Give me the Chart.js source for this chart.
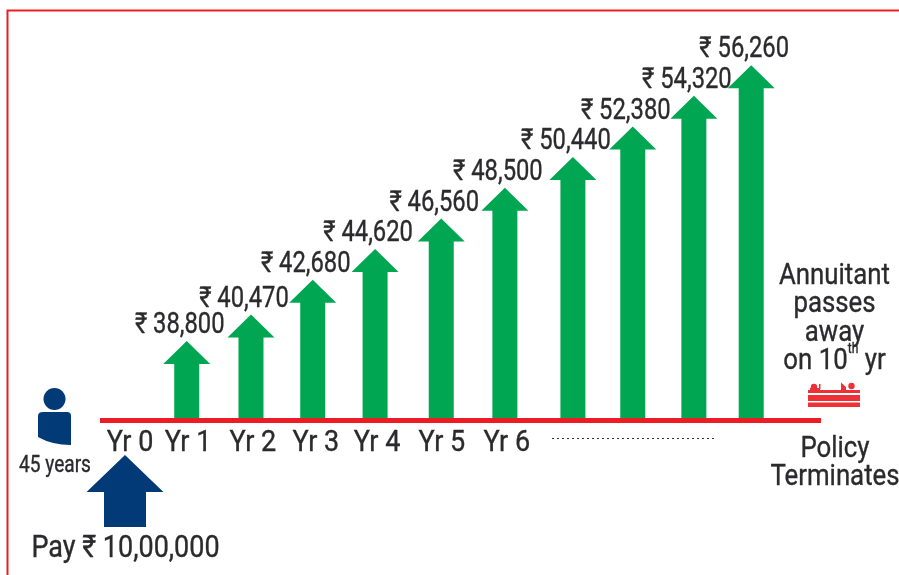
<!DOCTYPE html>
<html><head><meta charset="utf-8">
<style>html,body{margin:0;padding:0;background:#fff}canvas{display:block}</style>
<script src="https://cdn.jsdelivr.net/npm/chart.js@4"></script></head>
<body><canvas id="c" width="899" height="575"></canvas>
<script>
// Data
const tickLabels = ['Yr 0','Yr 1','Yr 2','Yr 3','Yr 4','Yr 5','Yr 6'];
const tickYears  = [0.08,1.0,2.03,3.03,4.0,5.03,6.06];
const arrowYears = [0.98,2.0,2.98,3.97,5.02,6.03,7.11,8.06,9.03,9.94];
const annuity    = [38800,40470,42680,44620,46560,48500,50440,52380,54320,56260];
const premiumYear = [0];
const premium     = [1000000];

const FONT = 'Roboto,"Noto Sans",sans-serif';
const INK = '#2b2a2c', RED = '#ed1c24', GREEN = '#00a651', NAVY = '#013a77';
const AXIS_BASE = 33768;
const arrowShape = [{head:1.88, h:23},{head:1.83, h:37}];
const fmt = v => '₹ ' + v.toLocaleString('en-IN');

function textAt(ctx, s, x, y, size, k, align){
  ctx.save();
  ctx.translate(x,y); ctx.scale(k,1);
  ctx.font = size + 'px ' + FONT; ctx.textAlign = align || 'center';
  ctx.textBaseline = 'middle'; ctx.fillStyle = INK; ctx.strokeStyle = INK; ctx.lineWidth = 0.35;
  ctx.fillText(s, 0, 0); ctx.strokeText(s, 0, 0);
  ctx.restore();
}
const arrows = {
  id:'arrows',
  beforeDatasetDraw(chart, args){
    const {ctx} = chart, ds = chart.data.datasets[args.index], sh = arrowShape[args.index];
    ctx.save(); ctx.fillStyle = ds.backgroundColor;
    args.meta.data.forEach(b => {
      const w = b.width, hw = w*sh.head/2;
      ctx.beginPath();
      ctx.moveTo(b.x, b.y);
      ctx.lineTo(b.x+hw, b.y+sh.h); ctx.lineTo(b.x+w/2, b.y+sh.h);
      ctx.lineTo(b.x+w/2, b.base); ctx.lineTo(b.x-w/2, b.base);
      ctx.lineTo(b.x-w/2, b.y+sh.h); ctx.lineTo(b.x-hw, b.y+sh.h);
      ctx.closePath(); ctx.fill();
    });
    ctx.restore();
    return false;
  }
};
const decor = {
  id:'decor',
  afterDraw(chart){
    const {ctx} = chart;
    ctx.save();
    // frame
    ctx.strokeStyle = RED; ctx.lineWidth = 2;
    ctx.beginPath(); ctx.moveTo(7.5,575); ctx.lineTo(7.5,10.5); ctx.lineTo(899,10.5); ctx.stroke();
    // axis tick labels, condensed
    const xs = chart.scales.x;
    xs.ticks.forEach(t => textAt(ctx, t.label, xs.getPixelForValue(t.value), 443, 30, 0.9));
    // value labels
    chart.getDatasetMeta(0).data.forEach((b,i)=>{
      textAt(ctx, fmt(annuity[i]), b.x-7, b.y-15, 29, 0.82);
    });
    // person
    ctx.fillStyle = NAVY;
    ctx.beginPath(); ctx.arc(54.5,399,11,0,Math.PI*2); ctx.fill();
    ctx.beginPath(); ctx.moveTo(38,416); ctx.quadraticCurveTo(38,412,43,412);
    ctx.lineTo(67,412); ctx.quadraticCurveTo(71,412,71,416); ctx.lineTo(71,445);
    ctx.quadraticCurveTo(52,445,38,437); ctx.closePath(); ctx.fill();
    textAt(ctx,'45 years',55,466,23,0.83);
    textAt(ctx,'Pay ₹ 10,00,000',125.5,549,31,0.87);
    // right text
    const R = 0.86, cx = 834.5;
    textAt(ctx,'Annuitant',cx,276,30,R);
    textAt(ctx,'passes',cx,304,30,R);
    textAt(ctx,'away',cx,333,30,R);
    ctx.font = '30px '+FONT;
    const a='on 10', c=' yr', wa=ctx.measureText(a).width*R, wc=ctx.measureText(c).width*R;
    ctx.font = '14px '+FONT; const wb=ctx.measureText('th').width*R;
    const sx = cx-(wa+wb+wc)/2;
    textAt(ctx,a,sx,361,30,R,'left');
    textAt(ctx,'th',sx+wa,349,14,R,'left');
    textAt(ctx,c,sx+wa+wb,361,30,R,'left');
    textAt(ctx,'Policy',835,449,30,R);
    textAt(ctx,'Terminates',835,477,30,R);
    // bed
    ctx.fillStyle = '#ee3136';
    ctx.fillRect(808,390,52,3); ctx.fillRect(808,395,52,6); ctx.fillRect(808,402.5,52,4.5);
    ctx.beginPath(); ctx.arc(814,387,3.2,0,Math.PI*2); ctx.arc(851.5,386,3.2,0,Math.PI*2); ctx.fill();
    ctx.fillRect(810,388,10,2); ctx.fillRect(819,384,1.5,5);
    ctx.beginPath(); ctx.moveTo(841,382.5); ctx.lineTo(846,387); ctx.lineTo(846,390); ctx.lineTo(841,390); ctx.fill();
    // dotted ellipsis
    ctx.strokeStyle = '#333'; ctx.lineWidth = 1; ctx.setLineDash([2,3]);
    ctx.beginPath(); ctx.moveTo(552,438.5); ctx.lineTo(715,438.5); ctx.stroke();
    ctx.restore();
  }
};
new Chart(document.getElementById('c'),{
  type:'bar',
  data:{datasets:[
    {label:'Annuity',yAxisID:'y',backgroundColor:GREEN,barThickness:25,base:AXIS_BASE,
     data:arrowYears.map((x,i)=>({x,y:annuity[i]}))},
    {label:'Premium',yAxisID:'yPay',backgroundColor:NAVY,barThickness:42,base:0,
     data:premiumYear.map((x,i)=>({x,y:premium[i]}))}
  ]},
  plugins:[arrows,decor],
  options:{
    responsive:false,animation:false,grouped:false,
    layout:{padding:{left:102.5,right:78.5,top:0,bottom:0}},
    plugins:{legend:{display:false},tooltip:{enabled:false}},
    scales:{
      x:{type:'linear',offset:false,min:-0.357,max:11.04,position:{y:AXIS_BASE},
        afterBuildTicks(s){s.ticks=tickYears.map(value=>({value}));},
        grid:{display:false,drawTicks:false},
        border:{display:true,color:RED,width:5,z:2},
        ticks:{display:false,autoSkip:false,maxRotation:0,
          callback(v){const i=tickYears.indexOf(v);return i<0?'':tickLabels[i];}}},
      y:{type:'linear',display:false,min:23990,max:60382},
      yPay:{type:'linear',display:false,min:-666667,max:7319444}
    }
  }
});
</script></body></html>
